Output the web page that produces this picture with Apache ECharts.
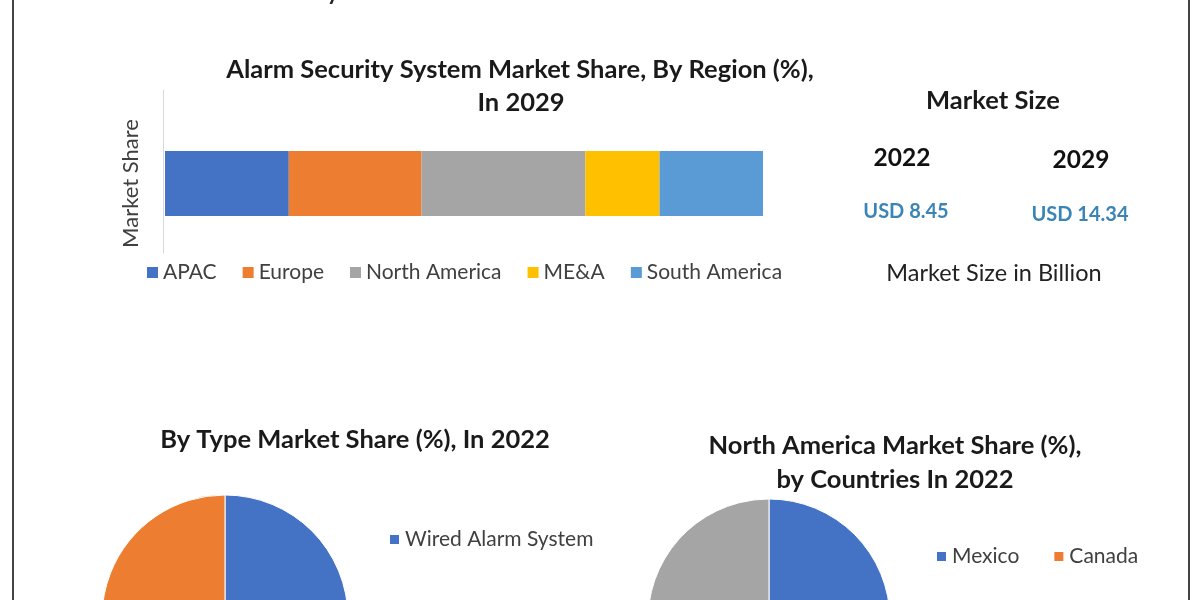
<!DOCTYPE html>
<html><head><meta charset="utf-8">
<script src="https://cdn.jsdelivr.net/npm/echarts@6/dist/echarts.min.js"></script>
<style>html,body{margin:0;padding:0;background:#fff}#c{width:1200px;height:600px}</style>
</head><body><div id="c"></div>
<script>
const regions = ['APAC', 'Europe', 'North America', 'ME&A', 'South America'];
const regionShare2029 = [20.7, 22.2, 27.4, 12.4, 17.3];
const regionColors = ['#4472C4', '#ED7D31', '#A5A5A5', '#FFC000', '#5B9BD5'];
const typeNames = ['Wired Alarm System', 'Wireless Alarm System'];
const typeShare2022 = [56, 44];
const typeColors = ['#4472C4', '#ED7D31'];
const countryNames = ['Mexico', 'Canada', 'US'];
const countryShare2022 = [32, 14, 54];
const countryColors = ['#4472C4', '#ED7D31', '#A5A5A5'];
const marketYears = ['2022', '2029'];
const marketSizeBillion = ['USD 8.45', 'USD 14.34'];

const FONT = 'Lato, "Open Sans", sans-serif';
const chart = echarts.init(document.getElementById('c'), null, {renderer: 'canvas'});

function txt(text, x, y, size, weight, color) {
  return {type: 'text', silent: true, style: {text, x, y, font: `${weight} ${size}px ${FONT}`, fill: color, align: 'center', verticalAlign: 'middle'}};
}

const barSeries = regions.map((r, i) => ({
  type: 'bar', name: r, stack: 'total', xAxisIndex: 0, yAxisIndex: 0,
  barWidth: 65, data: [regionShare2029[i]],
  itemStyle: {color: regionColors[i]}, silent: true
}));

const legendText = {color: '#404040', fontSize: 21, fontFamily: FONT};

chart.setOption({
  animation: false,
  backgroundColor: '#fff',
  grid: [
    {left: 165, width: 598, top: 90, height: 187},
    {left: 163, width: 1, top: 90, height: 163}
  ],
  xAxis: [
    {type: 'value', gridIndex: 0, min: 0, max: 100, show: false},
    {type: 'value', gridIndex: 1, show: false}
  ],
  yAxis: [
    {type: 'category', gridIndex: 0, data: ['2029'], axisLine: {show: false}, axisTick: {show: false}, axisLabel: {show: false},
     name: 'Market Share', nameLocation: 'middle', nameGap: 23, nameTextStyle: {color: '#404040', fontSize: 22, fontFamily: FONT}},
    {type: 'value', gridIndex: 1, axisLine: {show: true, lineStyle: {color: '#d9d9d9', width: 1}}, axisTick: {show: false}, axisLabel: {show: false}, splitLine: {show: false}}
  ],
  legend: [
    {data: regions, left: 142, top: 257, itemWidth: 11, itemHeight: 11, icon: 'rect', itemGap: 26, textStyle: legendText, selectedMode: false},
    {data: typeNames, left: 383, top: 524, width: 230, itemWidth: 11, itemHeight: 11, icon: 'rect', itemGap: 70, textStyle: legendText, selectedMode: false},
    {data: countryNames, left: 930, top: 541, width: 230, itemWidth: 11, itemHeight: 11, icon: 'rect', itemGap: 33, textStyle: legendText, selectedMode: false}
  ],
  series: barSeries.concat([
    {type: 'pie', center: [225, 618], radius: 123, silent: true, label: {show: false}, labelLine: {show: false},
     itemStyle: {borderColor: '#fff', borderWidth: 1},
     data: typeNames.map((n, i) => ({name: n, value: typeShare2022[i], itemStyle: {color: typeColors[i]}}))},
    {type: 'pie', center: [769, 620], radius: 121, silent: true, label: {show: false}, labelLine: {show: false},
     itemStyle: {borderColor: '#fff', borderWidth: 1},
     data: countryNames.map((n, i) => ({name: n, value: countryShare2022[i], itemStyle: {color: countryColors[i]}}))}
  ]),
  graphic: [
    {type: 'line', silent: true, shape: {x1: 13, y1: 0, x2: 13, y2: 600}, style: {stroke: '#444', lineWidth: 2}},
    {type: 'line', silent: true, shape: {x1: 1189, y1: 0, x2: 1189, y2: 600}, style: {stroke: '#444', lineWidth: 2}},
    txt('by 2022', 355, -7, 22, 'bold', '#222'),
    txt('Alarm Security System Market Share, By Region (%),', 520, 70, 25.5, 'bold', '#1a1a1a'),
    txt('In 2029', 521, 103, 25.5, 'bold', '#1a1a1a'),
    txt('Market Size', 993, 101, 25.5, 'bold', '#1a1a1a'),
    txt(marketYears[0], 902, 158, 24.5, 'bold', '#111'),
    txt(marketYears[1], 1081, 160, 24.5, 'bold', '#111'),
    txt(marketSizeBillion[0], 906, 212, 20, 'bold', '#3a85b5'),
    txt(marketSizeBillion[1], 1080, 215, 20, 'bold', '#3a85b5'),
    txt('Market Size in Billion', 994, 273, 23.5, 'normal', '#222'),
    txt('By Type Market Share (%), In 2022', 355, 440, 25.5, 'bold', '#1a1a1a'),
    txt('North America Market Share (%),', 895, 446, 25.5, 'bold', '#1a1a1a'),
    txt('by Countries In 2022', 895, 480, 25.5, 'bold', '#1a1a1a')
  ]
});
</script></body></html>
